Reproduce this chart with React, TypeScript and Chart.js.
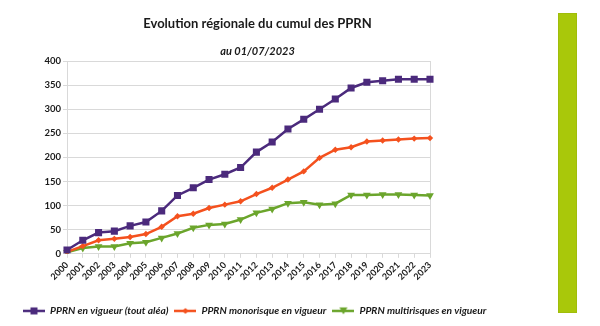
import React, { useEffect, useRef } from "react";
import { Chart, registerables } from "chart.js";

Chart.register(...registerables);

const years = [
  "2000", "2001", "2002", "2003", "2004", "2005", "2006", "2007", "2008", "2009", "2010", "2011",
  "2012", "2013", "2014", "2015", "2016", "2017", "2018", "2019", "2020", "2021", "2022", "2023",
];
const toutAlea = [8, 28, 44, 47, 58, 66, 89, 121, 137, 154, 165, 179, 211, 232, 259, 279, 300, 321, 344, 356, 359, 362, 362, 362];
const monorisque = [4, 16, 28, 31, 35, 41, 56, 78, 83, 95, 102, 109, 124, 137, 154, 171, 199, 216, 221, 233, 235, 237, 239, 240];
const multirisques = [3, 12, 15, 15, 22, 24, 33, 42, 54, 60, 62, 71, 85, 93, 105, 107, 102, 104, 122, 122, 123, 123, 122, 121];
const seriesNames = [
  "PPRN en vigueur (tout aléa)",
  "PPRN monorisque en vigueur",
  "PPRN multirisques en vigueur",
];
const title = "Evolution régionale du cumul des PPRN";
const subtitle = "au 01/07/2023";

const PURPLE = "#4b2a7c";
const ORANGE = "#f4511e";
const GREEN = "#6ba52c";
const GRID = "#d9d9d9";
const TEXT = "#1a1a1a";
const FONT = "Lato";

function legendIcon(color: string, style: string): HTMLCanvasElement {
  const c = document.createElement("canvas");
  c.width = 22;
  c.height = 10;
  const g = c.getContext("2d")!;
  g.strokeStyle = color;
  g.fillStyle = color;
  g.lineWidth = 2.5;
  g.beginPath();
  g.moveTo(0, 5);
  g.lineTo(22, 5);
  g.stroke();
  g.beginPath();
  if (style === "rect") {
    g.rect(7.5, 1.5, 7, 7);
  } else if (style === "diamond") {
    g.moveTo(11, 2);
    g.lineTo(14, 5);
    g.lineTo(11, 8);
    g.lineTo(8, 5);
    g.closePath();
  } else {
    g.moveTo(7, 1.5);
    g.lineTo(15, 1.5);
    g.lineTo(11, 8.5);
    g.closePath();
  }
  g.fill();
  return c;
}

const titlePlugin = {
  id: "customTitle",
  afterDraw(chart: any) {
    const ctx = chart.ctx;
    const cx = (chart.chartArea.left + chart.chartArea.right) / 2 + 9;
    ctx.save();
    ctx.fillStyle = TEXT;
    ctx.textAlign = "center";
    ctx.textBaseline = "middle";
    ctx.font = `bold 13px ${FONT}`;
    ctx.fillText(title, cx, 24);
    ctx.font = `italic bold 11px ${FONT}`;
    ctx.fillText(subtitle, cx, 51);
    ctx.restore();
  },
};

export default function App() {
  const ref = useRef<HTMLCanvasElement>(null);

  useEffect(() => {
    if (!ref.current) return;
    Chart.defaults.font.family = FONT;
    const icons = [
      legendIcon(PURPLE, "rect"),
      legendIcon(ORANGE, "diamond"),
      legendIcon(GREEN, "tri"),
    ];
    const chart = new Chart(ref.current, {
      type: "line",
      data: {
        labels: years,
        datasets: [
          {
            label: seriesNames[0],
            data: toutAlea,
            borderColor: PURPLE,
            backgroundColor: PURPLE,
            borderWidth: 2.5,
            pointStyle: "rect",
            pointRadius: 5,
            pointBorderWidth: 0,
          },
          {
            label: seriesNames[1],
            data: monorisque,
            borderColor: ORANGE,
            backgroundColor: ORANGE,
            borderWidth: 2.5,
            pointStyle: "rectRot",
            pointRadius: 3.2,
            pointBorderWidth: 0,
          },
          {
            label: seriesNames[2],
            data: multirisques,
            borderColor: GREEN,
            backgroundColor: GREEN,
            borderWidth: 2.5,
            pointStyle: "triangle",
            pointRotation: 180,
            pointRadius: 4.5,
            pointBorderWidth: 0,
          },
        ],
      },
      options: {
        animation: false,
        responsive: false,
        maintainAspectRatio: false,
        layout: { padding: { top: 61, left: 17, right: 0, bottom: 0 } },
        plugins: {
          title: { display: false },
          tooltip: { enabled: false },
          legend: {
            position: "bottom",
            align: "start",
            labels: {
              usePointStyle: true,
              pointStyleWidth: 22,
              padding: 6,
              color: TEXT,
              font: { family: FONT, size: 10.2, style: "italic", weight: "bold" },
              generateLabels: (ch: any) =>
                ch.data.datasets.map((ds: any, i: number) => ({
                  text: ds.label,
                  pointStyle: icons[i],
                  fillStyle: ds.borderColor,
                  strokeStyle: ds.borderColor,
                  lineWidth: 0,
                  hidden: false,
                  datasetIndex: i,
                  fontColor: TEXT,
                })),
            },
          },
        },
        scales: {
          x: {
            type: "category",
            offset: false,
            grid: { display: true, drawOnChartArea: false, color: GRID, tickLength: 4 },
            border: { display: true, color: GRID },
            ticks: {
              autoSkip: false,
              minRotation: 45,
              maxRotation: 45,
              padding: 2,
              color: TEXT,
              font: { family: FONT, size: 9, weight: "bold" },
            },
            afterFit: (s: any) => {
              s.height = 46;
            },
          },
          y: {
            type: "linear",
            min: 0,
            max: 400,
            ticks: {
              stepSize: 50,
              padding: 2,
              color: TEXT,
              font: { family: FONT, size: 9.5, weight: "bold" },
            },
            grid: { color: GRID, tickLength: 4 },
            border: { display: true, color: GRID },
            afterFit: (s: any) => {
              s.width = 50;
            },
          },
          right: {
            type: "linear",
            position: "right",
            grid: { display: false },
            ticks: { display: false },
            border: { display: true, color: GRID },
            afterFit: (s: any) => {
              s.width = 170;
            },
          },
        },
      },
      plugins: [titlePlugin],
    });
    return () => chart.destroy();
  }, []);

  return (
    <div style={{ position: "fixed", left: 0, top: 0, width: 600, height: 326, background: "#ffffff" }}>
      <canvas ref={ref} width={600} height={326} style={{ display: "block", width: 600, height: 326 }} />
      <div
        style={{
          position: "absolute",
          left: 558,
          top: 13,
          width: 19,
          height: 300,
          background: "#a9c80a",
          boxSizing: "border-box",
          border: "1px solid #a0bd0a",
        }}
      />
    </div>
  );
}
